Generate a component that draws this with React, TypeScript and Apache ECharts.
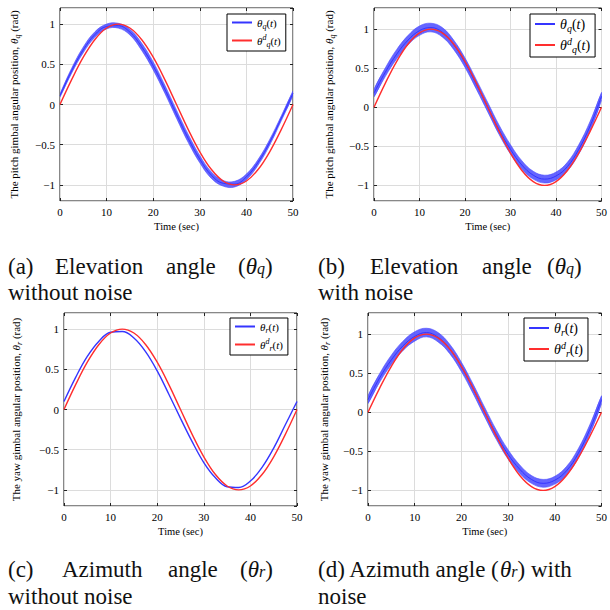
import React, { useEffect, useRef } from "react";
import * as echarts from "echarts";

const timeSec = [0, 2.5, 5, 7.5, 10, 12.5, 15, 17.5, 20, 22.5, 25, 27.5, 30, 32.5, 35, 37.5, 40, 42.5, 45, 47.5, 50];
const desiredAngle = [0, 0.309, 0.588, 0.809, 0.951, 1, 0.951, 0.809, 0.588, 0.309, 0, -0.309, -0.588, -0.809, -0.951, -1, -0.951, -0.809, -0.588, -0.309, 0];

const elevationNoNoise = [0.11, 0.42, 0.68, 0.87, 0.97, 0.98, 0.9, 0.72, 0.48, 0.19, -0.12, -0.42, -0.68, -0.88, -0.98, -0.99, -0.9, -0.72, -0.47, -0.17, 0.14];
const elevationNoNoiseSpread = [0.02, 0.03, 0.035, 0.035, 0.03, 0.03, 0.035, 0.045, 0.05, 0.05, 0.05, 0.05, 0.045, 0.04, 0.035, 0.035, 0.035, 0.035, 0.035, 0.03, 0.03];

const elevationNoise = [0.18, 0.45, 0.68, 0.86, 0.98, 1.02, 0.96, 0.8, 0.57, 0.29, 0, -0.29, -0.54, -0.74, -0.87, -0.92, -0.88, -0.76, -0.54, -0.24, 0.14];
const elevationNoiseSpread = [0.05, 0.055, 0.06, 0.06, 0.06, 0.055, 0.06, 0.06, 0.06, 0.06, 0.06, 0.06, 0.06, 0.055, 0.05, 0.05, 0.05, 0.055, 0.06, 0.06, 0.05];

const azimuthNoNoise = [0.1, 0.4, 0.66, 0.85, 0.96, 0.97, 0.89, 0.72, 0.48, 0.19, -0.11, -0.4, -0.66, -0.85, -0.96, -0.97, -0.89, -0.72, -0.48, -0.19, 0.1];

const azimuthNoise = [0.16, 0.44, 0.67, 0.85, 0.97, 1.02, 0.96, 0.81, 0.58, 0.3, 0, -0.29, -0.54, -0.73, -0.86, -0.91, -0.87, -0.75, -0.53, -0.22, 0.16];
const azimuthNoiseSpread = [0.05, 0.055, 0.06, 0.06, 0.06, 0.055, 0.06, 0.06, 0.06, 0.06, 0.06, 0.06, 0.06, 0.055, 0.05, 0.05, 0.05, 0.055, 0.06, 0.06, 0.05];

const yTickFormat = (v: number) => (v < 0 ? "\u2212" + Math.abs(v) : String(v));

const SERIF = "'Liberation Serif', 'Times New Roman', serif";
const BLUE = "#3535ff";
const BAND = "#4a4aff";
const RED = "#ff2e2e";

function rich(fs: number, lh?: number) {
  const s = Math.round(fs * 0.7);
  const L = lh ?? fs + 4;
  return {
    r: { fontSize: fs, fontFamily: SERIF, lineHeight: L, color: "#000" },
    i: { fontSize: fs, fontFamily: SERIF, fontStyle: "italic", lineHeight: L, color: "#000" },
    sub: { fontSize: s, fontFamily: SERIF, fontStyle: "italic", verticalAlign: "bottom", lineHeight: s + 1, color: "#000" },
    sup: { fontSize: s, fontFamily: SERIF, fontStyle: "italic", verticalAlign: "top", lineHeight: s + 1, color: "#000" },
  };
}

type Panel = {
  grid: { left: number; top: number; width: number; height: number };
  yMax: number;
  yName: string;
  nameGap: number;
  sym: string;
  center: number[];
  spread: number[] | null;
  legend: { left: number; top: number; fs: number };
  key: string;
};

const panels: Panel[] = [
  {
    grid: { left: 60, top: 8, width: 233, height: 193 },
    yMax: 1.2,
    yName: "{r|The pitch gimbal angular position, }{i|θ}{sub|q}{r| (rad)}",
    nameGap: 39,
    sym: "q",
    center: elevationNoNoise,
    spread: elevationNoNoiseSpread,
    legend: { left: 227, top: 14, fs: 11 },
    key: "a",
  },
  {
    grid: { left: 374, top: 8, width: 234, height: 193 },
    yMax: 1.27,
    yName: "{r|The pitch gimbal angular position, }{i|θ}{sub|q}{r| (rad)}",
    nameGap: 38,
    sym: "q",
    center: elevationNoise,
    spread: elevationNoiseSpread,
    legend: { left: 530, top: 14, fs: 14 },
    key: "b",
  },
  {
    grid: { left: 64, top: 313, width: 233, height: 193 },
    yMax: 1.2,
    yName: "{r|The yaw gimbal angular position, }{i|θ}{sub|r}{r| (rad)}",
    nameGap: 41,
    sym: "r",
    center: azimuthNoNoise,
    spread: null,
    legend: { left: 230, top: 318, fs: 11 },
    key: "c",
  },
  {
    grid: { left: 368, top: 313, width: 234, height: 193 },
    yMax: 1.27,
    yName: "{r|The yaw gimbal angular position, }{i|θ}{sub|r}{r| (rad)}",
    nameGap: 37,
    sym: "r",
    center: azimuthNoise,
    spread: azimuthNoiseSpread,
    legend: { left: 524, top: 318, fs: 14 },
    key: "d",
  },
];

function buildOption() {
  const grid: any[] = [];
  const xAxis: any[] = [];
  const yAxis: any[] = [];
  const series: any[] = [];
  const legend: any[] = [];
  const labelMap: Record<string, string> = {};

  panels.forEach((p, i) => {
    grid.push({ ...p.grid, show: true, borderColor: "#111", borderWidth: 1, backgroundColor: "#fff", z: 0 });
    const tickCommon = { show: true, inside: true, length: 3, lineStyle: { color: "#222", width: 1 } };
    const noLine = { show: false, onZero: false };
    xAxis.push({
      type: "value", gridIndex: i, min: 0, max: 50, interval: 10, position: "bottom",
      axisLine: noLine, axisTick: tickCommon,
      axisLabel: { fontFamily: SERIF, fontSize: 11, color: "#000", margin: 5 },
      splitLine: { show: true, lineStyle: { color: "#dcdcdc", width: 1 } },
      name: "Time (sec)", nameLocation: "middle", nameGap: 20,
      nameTextStyle: { fontFamily: SERIF, fontSize: 10.5, color: "#000" },
    });
    xAxis.push({
      type: "value", gridIndex: i, min: 0, max: 50, interval: 10, position: "top",
      axisLine: noLine, axisTick: tickCommon, axisLabel: { show: false }, splitLine: { show: false },
    });
    yAxis.push({
      type: "value", gridIndex: i, min: -1.2, max: p.yMax, splitNumber: 5, position: "left",
      axisLine: noLine, axisTick: tickCommon,
      axisLabel: { fontFamily: SERIF, fontSize: 11, color: "#000", margin: 5, showMinLabel: false, showMaxLabel: false, formatter: yTickFormat },
      splitLine: { show: true, lineStyle: { color: "#dcdcdc", width: 1 } },
      name: p.yName, nameLocation: "middle", nameGap: p.nameGap, nameRotate: 90,
      nameTextStyle: { fontFamily: SERIF, fontSize: 11, color: "#000", rich: rich(11) },
    });
    yAxis.push({
      type: "value", gridIndex: i, min: -1.2, max: p.yMax, splitNumber: 5, position: "right",
      axisLine: noLine, axisTick: tickCommon, axisLabel: { show: false }, splitLine: { show: false },
    });

    const xi = 2 * i;
    const yi = 2 * i;
    const actualName = "act_" + p.key;
    const desName = "des_" + p.key;
    labelMap[actualName] = `{i|θ}{sub|${p.sym}}{r|(}{i|t}{r|)}`;
    labelMap[desName] = `{i|θ}{sup|d}{sub|${p.sym}}{r|(}{i|t}{r|)}`;

    if (p.spread) {
      const sp = p.spread;
      const center = p.center;
      series.push({
        type: "custom", xAxisIndex: xi, yAxisIndex: yi, silent: true, clip: true, z: 2,
        data: timeSec.map((t, k) => [t, center[k] - sp[k], center[k] + sp[k]]),
        encode: { x: 0, y: [1, 2] },
        renderItem: (params: any, api: any) => {
          if (params.dataIndex !== 0) return null;
          const upper = timeSec.map((t, k) => api.coord([t, center[k] + sp[k]]));
          const lower = timeSec.map((t, k) => api.coord([t, center[k] - sp[k]])).reverse();
          return {
            type: "group",
            children: [
              { type: "polyline", shape: { points: upper, smooth: 0.4 }, style: { stroke: BAND, lineWidth: 1, fill: null, opacity: 0.6 } },
              { type: "polyline", shape: { points: lower, smooth: 0.4 }, style: { stroke: BAND, lineWidth: 1, fill: null, opacity: 0.6 } },
              { type: "polygon", shape: { points: upper.concat(lower), smooth: 0.4 }, style: { fill: BAND, opacity: 0.85 } },
            ],
          };
        },
      });
    }
    series.push({
      name: actualName, type: "line", xAxisIndex: xi, yAxisIndex: yi,
      data: timeSec.map((t, k) => [t, p.center[k]]),
      symbol: "none", smooth: 0.4, lineStyle: { color: BLUE, width: p.spread ? 1 : 1.4 }, itemStyle: { color: BLUE }, z: 3,
    });
    series.push({
      name: desName, type: "line", xAxisIndex: xi, yAxisIndex: yi,
      data: timeSec.map((t, k) => [t, desiredAngle[k]]),
      symbol: "none", smooth: 0.4, lineStyle: { color: RED, width: 1.4 }, itemStyle: { color: RED }, z: 4,
    });

    const fs = p.legend.fs;
    legend.push({
      data: [actualName, desName], left: p.legend.left, top: p.legend.top, orient: "vertical",
      icon: "rect", itemWidth: 20, itemHeight: 2, itemGap: 3, selectedMode: false,
      padding: [3, 5, 3, 5], borderColor: "#000", borderWidth: 1, backgroundColor: "#fff",
      textStyle: { fontFamily: SERIF, fontSize: fs, color: "#000", rich: rich(fs) },
      formatter: (n: string) => labelMap[n] || n,
      z: 10,
    });
  });

  const capFs = 23;
  const cap = rich(capFs, 21);
  const capText = (x: number, y: number, text: string) => ({
    type: "text", x, y, silent: true,
    style: { text, fontFamily: SERIF, fontSize: capFs, fill: "#111", verticalAlign: "middle", rich: cap },
  });

  const graphic = [
    capText(8, 266, "{r|(a)}"), capText(55, 266, "{r|Elevation}"), capText(166, 266, "{r|angle}"),
    capText(238, 266, "{r|(}{i|θ}{sub|q}{r|)}"),
    capText(8, 292, "{r|without noise}"),
    capText(318, 266, "{r|(b)}"), capText(370, 266, "{r|Elevation}"), capText(482, 266, "{r|angle}"),
    capText(547, 266, "{r|(}{i|θ}{sub|q}{r|)}"),
    capText(318, 292, "{r|with noise}"),
    capText(8, 569, "{r|(c)}"), capText(62, 569, "{r|Azimuth}"), capText(168, 569, "{r|angle}"),
    capText(240, 569, "{r|(}{i|θ}{sub|r}{r|)}"),
    capText(8, 596, "{r|without noise}"),
    capText(318, 569, "{r|(d) Azimuth angle (}{i|θ}{sub|r}{r|) with}"),
    capText(318, 596, "{r|noise}"),
  ];

  return { animation: false, backgroundColor: "#fff", grid, xAxis, yAxis, series, legend, graphic };
}

export default function App() {
  const ref = useRef<HTMLDivElement>(null);
  useEffect(() => {
    if (!ref.current) return;
    const chart = echarts.init(ref.current, null, { renderer: "svg" });
    chart.setOption(buildOption() as any);
    return () => chart.dispose();
  }, []);
  return <div ref={ref} style={{ position: "absolute", left: 0, top: 0, width: 610, height: 610 }} />;
}
